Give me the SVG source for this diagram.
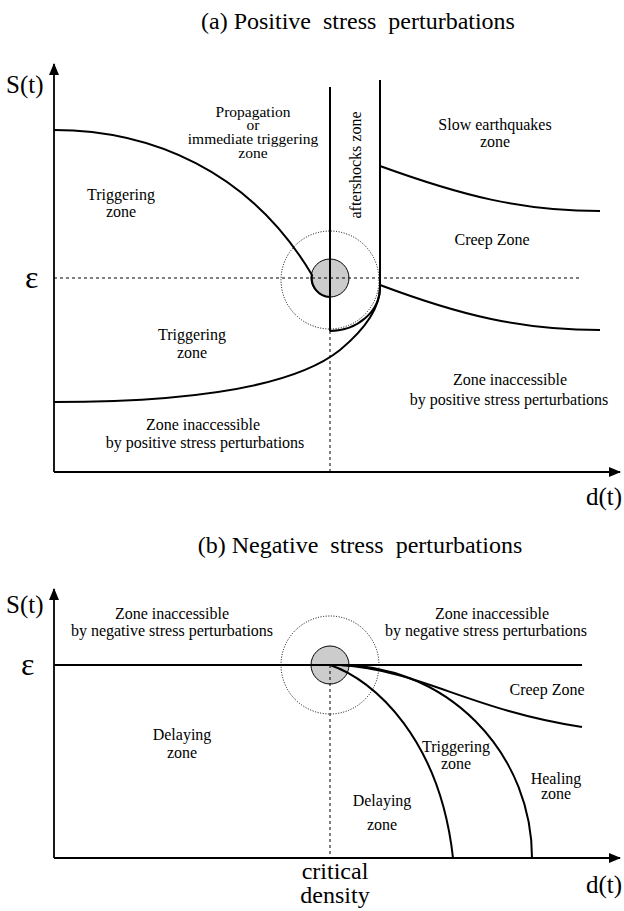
<svg xmlns="http://www.w3.org/2000/svg" width="624" height="911" viewBox="0 0 624 911">
<style>
text{font-family:"Liberation Serif","Times New Roman",serif;fill:#000}
.lbl{font-family:"Liberation Serif","Times New Roman",serif;font-size:16px;text-anchor:middle}
.tight{font-size:15.5px}
.title{font-family:"Liberation Serif","Times New Roman",serif;font-size:24px;text-anchor:middle}
.ax{font-family:"Liberation Serif","Times New Roman",serif;font-size:25px}
.crit{font-family:"Liberation Serif","Times New Roman",serif;font-size:24px;text-anchor:middle}
.eps{font-family:"Liberation Serif","Times New Roman",serif;font-size:32px}
.thick{fill:none;stroke:#000;stroke-width:2}
.axis{fill:none;stroke:#000;stroke-width:1.8}
.dash{fill:none;stroke:#000;stroke-width:1;stroke-dasharray:3,3}
.dot{fill:none;stroke:#000;stroke-width:1;stroke-dasharray:1,1.6}
.ball{fill:#cccccc;stroke:#000;stroke-width:1}
</style>
<defs>
<marker id="arr" markerWidth="12" markerHeight="10" refX="11" refY="5" orient="auto" markerUnits="userSpaceOnUse">
<path d="M0,0 L12,5 L0,10 Z" fill="#000"/>
</marker>
</defs>

<!-- Panel (a) -->
<g id="panel-a">
<text class="title" x="358" y="29" xml:space="preserve">(a) Positive  stress  perturbations</text>
<g id="axes-a">
<line class="axis" x1="54" y1="472" x2="54" y2="64" marker-end="url(#arr)"/>
<line class="axis" x1="54" y1="472" x2="620" y2="472" marker-end="url(#arr)"/>
<text class="ax" x="6" y="93">S(t)</text>
<text class="ax" x="622" y="505" text-anchor="end">d(t)</text>
<text class="eps" x="25" y="288">ε</text>
</g>
<g id="critical-a">
<circle class="dot" cx="330" cy="280" r="49"/>
<circle class="ball" cx="330" cy="278" r="19"/>
</g>
<g id="connectors-a">
<line class="dash" x1="54" y1="278" x2="582" y2="278"/>
<line class="dash" x1="330" y1="331" x2="330" y2="472"/>
<line class="thick" x1="330" y1="87" x2="330" y2="331"/>
<line class="thick" x1="380" y1="80" x2="380" y2="287"/>
<path class="thick" d="M54,130 C150,130 250,170 312,275 A19,19 0 0 0 330,297"/>
<path class="thick" d="M330,331 A50,44 0 0 0 380,287"/>
<path class="thick" d="M54,402 C180,402 290,390 340,350 C370,325 380,305 380,287"/>
<path class="thick" d="M380,166 C460,195 520,211 600,211"/>
<path class="thick" d="M380,285 C460,315 520,330 600,330"/>
</g>
<g id="labels-a">
<text class="lbl tight" x="253" y="117">Propagation</text>
<text class="lbl tight" x="253" y="130">or</text>
<text class="lbl tight" x="253" y="144">immediate triggering</text>
<text class="lbl tight" x="253" y="158">zone</text>
<text class="lbl" transform="translate(361,165) rotate(-90)">aftershocks zone</text>
<text class="lbl" x="495" y="130">Slow earthquakes</text>
<text class="lbl" x="495" y="147">zone</text>
<text class="lbl" x="121" y="200">Triggering</text>
<text class="lbl" x="121" y="217">zone</text>
<text class="lbl" x="492" y="245">Creep Zone</text>
<text class="lbl" x="192" y="340">Triggering</text>
<text class="lbl" x="192" y="358">zone</text>
<text class="lbl" x="510" y="385">Zone inaccessible</text>
<text class="lbl" x="509" y="405">by positive stress perturbations</text>
<text class="lbl" x="203" y="430">Zone inaccessible</text>
<text class="lbl" x="205" y="448">by positive stress perturbations</text>
</g>
</g>

<!-- Panel (b) -->
<g id="panel-b">
<text class="title" x="360" y="553" xml:space="preserve">(b) Negative  stress  perturbations</text>
<g id="axes-b">
<line class="axis" x1="54" y1="858" x2="54" y2="589" marker-end="url(#arr)"/>
<line class="axis" x1="54" y1="858" x2="620" y2="858" marker-end="url(#arr)"/>
<text class="ax" x="6" y="613">S(t)</text>
<text class="ax" x="622" y="893" text-anchor="end">d(t)</text>
<text class="eps" x="21" y="675">ε</text>
</g>
<g id="critical-b">
<circle class="dot" cx="330" cy="665" r="49"/>
<circle class="ball" cx="330" cy="665" r="19"/>
</g>
<g id="connectors-b">
<line class="thick" x1="54" y1="665" x2="582" y2="665"/>
<line class="dash" x1="330" y1="665" x2="330" y2="858"/>
<path class="thick" d="M330,665 C375,680 440,740 453,858"/>
<path class="thick" d="M340,665 A192,193 0 0 1 532,858"/>
<path class="thick" d="M340,665 C420,670 470,710 582,727"/>
</g>
<g id="labels-b">
<text class="lbl" x="172" y="619">Zone inaccessible</text>
<text class="lbl" x="172" y="636">by negative stress perturbations</text>
<text class="lbl" x="492" y="619">Zone inaccessible</text>
<text class="lbl" x="486" y="636">by negative stress perturbations</text>
<text class="lbl" x="547" y="695">Creep Zone</text>
<text class="lbl" x="182" y="740">Delaying</text>
<text class="lbl" x="182" y="758">zone</text>
<text class="lbl" x="456" y="752">Triggering</text>
<text class="lbl" x="456" y="769">zone</text>
<text class="lbl" x="556" y="784">Healing</text>
<text class="lbl" x="556" y="799">zone</text>
<text class="lbl" x="382" y="806">Delaying</text>
<text class="lbl" x="382" y="830">zone</text>
<text class="crit" x="335" y="879">critical</text>
<text class="crit" x="335" y="903">density</text>
</g>
</g>
</svg>
